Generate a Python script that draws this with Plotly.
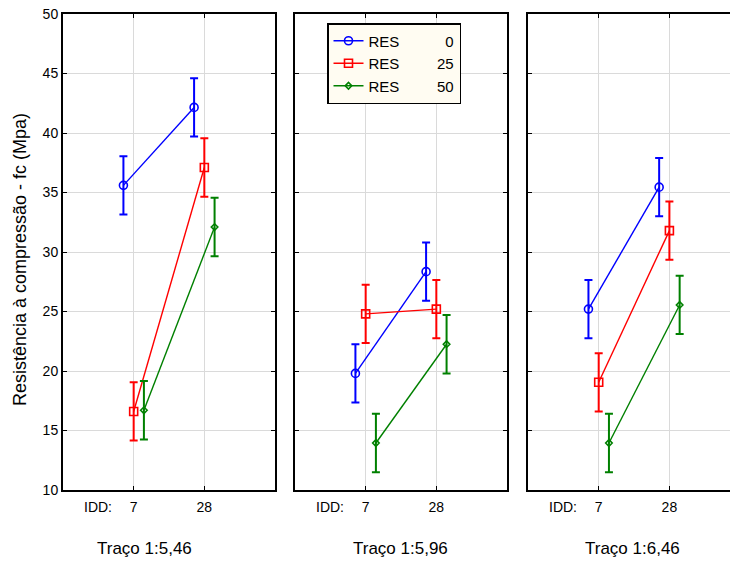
import plotly.graph_objects as go

# ---- data ----
panels = ["Traço 1:5,46", "Traço 1:5,96", "Traço 1:6,46"]
idd_labels = ["7", "28"]
res_levels = ["0", "25", "50"]

# mean fc (MPa) per panel, at IDD 7 and 28
res0 = [[35.6, 42.15], [19.8, 28.35], [25.2, 35.45]]
res25 = [[16.6, 37.1], [24.8, 25.2], [19.05, 31.8]]
res50 = [[16.7, 32.1], [13.95, 22.25], [13.95, 25.55]]
# half-width of the error bars (MPa)
err0 = [[2.45, 2.45], [2.45, 2.45], [2.45, 2.45]]
err25 = [[2.45, 2.45], [2.45, 2.45], [2.45, 2.45]]
err50 = [[2.45, 2.45], [2.45, 2.45], [2.45, 2.45]]

y_ticks = [10, 15, 20, 25, 30, 35, 40, 45, 50]

# ---- styling / layout ----
W, H = 730, 561
series = [
    (res0, err0, "#0000FF", "circle-open", 8, 0),
    (res25, err25, "#FF0000", "square-open", 8, 1),
    (res50, err50, "#008000", "diamond-open", 5, 2),
]
offsets = [-0.145, 0.0, 0.145]
panel_px = [(63, 275), (295, 507), (528, 740)]   # window coordinates
top_px, bot_px = 14, 490
unit_px = 70.0

FONT = "Liberation Sans, Arial, sans-serif"


def px(xw):
    return xw / W


def py(yw):
    return 1 - yw / H


fig = go.Figure()

for p in range(3):
    ax = "" if p == 0 else str(p + 1)
    for (vals, errs, col, sym, msize, si) in series:
        xs = [i + offsets[si] for i in range(len(idd_labels))]
        fig.add_trace(go.Scatter(
            x=xs, y=vals[p],
            mode="lines+markers",
            line=dict(color=col, width=1.4),
            marker=dict(symbol=sym, size=msize, color=col,
                        line=dict(color=col, width=1.6)),
            error_y=dict(type="data", array=errs[p], visible=True,
                         color=col, thickness=2, width=4),
            xaxis="x" + ax, yaxis="y" + ax,
            name="RES" + "\u2007" * (6 - len(res_levels[si])) + " " + res_levels[si],
            showlegend=(p == 0),
        ))

layout = dict(
    width=W, height=H,
    margin=dict(l=0, r=0, t=0, b=0, autoexpand=False),
    paper_bgcolor="white", plot_bgcolor="white",
    font=dict(family=FONT, size=14, color="black"),
    showlegend=True,
    legend=dict(x=px(327), y=py(23), xanchor="left", yanchor="top",
                bgcolor="#FFFCF2", bordercolor="black", borderwidth=1.5,
                font=dict(family=FONT, size=15, color="black"),
                tracegroupgap=0, itemwidth=30),
)

for p in range(3):
    ax = "" if p == 0 else str(p + 1)
    x0, x1 = panel_px[p]
    x1c = min(x1, W)
    rmax = 2.0 - (x1 - x1c) / unit_px
    layout["xaxis" + ax] = dict(
        domain=[px(x0), px(x1c)], range=[-1, rmax],
        tickvals=[0, 1], ticktext=idd_labels,
        ticks="inside", ticklen=4, tickcolor="black",
        showline=True, linecolor="black", linewidth=2,
        mirror="ticks",
        showgrid=True, gridcolor="#DADADA", gridwidth=1,
        zeroline=False, fixedrange=True, automargin=False,
        tickfont=dict(size=14), ticklabelstandoff=3,
        ticklabeloverflow="allow",
        anchor="y" + ax,
    )
    layout["yaxis" + ax] = dict(
        domain=[py(bot_px), py(top_px)], range=[10, 50],
        tickvals=y_ticks, showticklabels=(p == 0),
        ticks="inside", ticklen=4, tickcolor="black",
        showline=True, linecolor="black", linewidth=2,
        mirror="ticks" if p < 2 else False,
        showgrid=True, gridcolor="#DADADA", gridwidth=1,
        zeroline=False, fixedrange=True, automargin=False,
        tickfont=dict(size=14), ticklabeloverflow="allow",
        anchor="x" + ax,
    )

fig.update_layout(**layout)

annotations = []
label_centers = [144, 400, 632]
for p in range(3):
    ax = "" if p == 0 else str(p + 1)
    annotations.append(dict(text="IDD:", x=-0.5, xref="x" + ax,
                            y=py(507), yref="paper", showarrow=False,
                            xanchor="center", yanchor="middle",
                            font=dict(size=14)))
    annotations.append(dict(text=panels[p], x=px(label_centers[p]), xref="paper",
                            y=py(548), yref="paper", showarrow=False,
                            xanchor="center", yanchor="middle",
                            font=dict(size=17)))
annotations.append(dict(text="Resistência à compressão - fc (Mpa)",
                        x=px(20), xref="paper", y=py(260), yref="paper",
                        textangle=-90, showarrow=False,
                        xanchor="center", yanchor="middle",
                        font=dict(size=18)))
fig.update_layout(annotations=annotations)

fig.write_html(
    "out.html",
    config={"displayModeBar": False},
    post_script="document.body.style.margin='0';document.body.style.overflow='hidden';",
)
